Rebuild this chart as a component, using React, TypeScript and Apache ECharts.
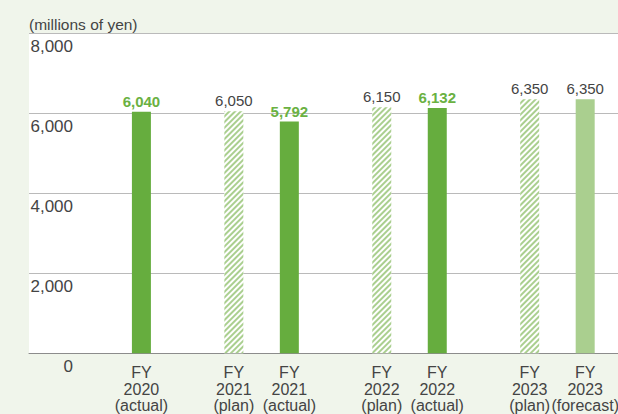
import React, { useEffect, useRef } from "react";
import * as echarts from "echarts";

const categories = ["FY2020", "FY2021", "FY2022", "FY2023"];
const planValues: (number | null)[] = [null, 6050, 6150, 6350];
const actualValues = [6040, 5792, 6132, 6350];
const actualKinds = ["actual", "actual", "actual", "forecast"];
const planLabels = ["", "FY\n2021\n(plan)", "FY\n2022\n(plan)", "FY\n2023\n(plan)"];
const actualLabels = ["FY\n2020\n(actual)", "FY\n2021\n(actual)", "FY\n2022\n(actual)", "FY\n2023\n(forecast)"];
const yTicks = [0, 2000, 4000, 6000, 8000];
const unitLabel = "(millions of yen)";

const GREEN = "#66ad3e";
const LIGHT = "#aacf8f";
const TEXT = "#444444";
const FONT = "'Liberation Sans', Arial, Helvetica, sans-serif";

export default function App() {
  const ref = useRef<HTMLDivElement>(null);
  useEffect(() => {
    if (!ref.current) return;
    const chart = echarts.init(ref.current, undefined, { renderer: "svg" });
    const top = 33.3;
    const bottom = 414 - 353.3;
    const barW = 19;
    const pairSpacing = 55.5;
    const shift = pairSpacing;
    const xLabelBase = {
      interval: 0,
      margin: 11,
      fontSize: 16,
      lineHeight: 16.5,
      color: TEXT,
      fontFamily: FONT,
      hideOverlap: false,
    };
    chart.setOption({
      animation: false,
      backgroundColor: "#f0f5eb",
      textStyle: { fontFamily: FONT },
      title: {
        text: unitLabel,
        left: 29,
        top: 16,
        padding: 0,
        textStyle: { fontFamily: FONT, fontSize: 15.5, fontWeight: "normal", color: TEXT },
      },
      grid: [
        { left: 29, right: 0, top, bottom, show: true, backgroundColor: "#ffffff", borderWidth: 0, outerBoundsMode: "none", containLabel: false },
        { left: 39.7, width: 591.7, top, bottom, outerBoundsMode: "none", containLabel: false },
      ],
      xAxis: [
        {
          gridIndex: 0,
          type: "value",
          position: "bottom",
          min: 0,
          max: 1,
          axisLine: { show: true, onZero: false, lineStyle: { color: "#8c8c8c", width: 1 } },
          axisTick: { show: false },
          axisLabel: { show: false },
          splitLine: { show: false },
        },
        {
          gridIndex: 1,
          type: "category",
          position: "bottom",
          offset: 0,
          data: categories,
          axisLine: { show: false },
          axisTick: { show: false },
          axisLabel: {
            ...xLabelBase,
            formatter: (_v: string, i: number) => actualLabels[i],
            padding: [0, 0, 0, shift],
          },
        },
        {
          gridIndex: 1,
          type: "category",
          position: "bottom",
          offset: 0,
          data: categories,
          axisLine: { show: false },
          axisTick: { show: false },
          axisLabel: {
            ...xLabelBase,
            formatter: (_v: string, i: number) => planLabels[i],
            padding: [0, shift, 0, 0],
          },
        },
      ],
      yAxis: [
        {
          gridIndex: 0,
          type: "value",
          min: yTicks[0],
          max: yTicks[yTicks.length - 1],
          interval: yTicks[1] - yTicks[0],
          axisLine: { show: false },
          axisTick: { show: false },
          splitLine: { show: true, lineStyle: { color: "#bababa", width: 1 } },
          axisLabel: {
            inside: true,
            align: "right",
            verticalAlign: "top",
            margin: 44,
            padding: [4.5, 0, 0, 0],
            fontSize: 17,
            lineHeight: 17,
            color: TEXT,
            fontFamily: FONT,
            formatter: (v: number) => v.toLocaleString("en-US"),
          },
        },
        {
          gridIndex: 1,
          type: "value",
          min: yTicks[0],
          max: yTicks[yTicks.length - 1],
          show: false,
          splitLine: { show: false },
        },
      ],
      series: [
        {
          type: "bar",
          name: "plan",
          xAxisIndex: 1,
          yAxisIndex: 1,
          barWidth: barW,
          barGap: ((pairSpacing - barW) / barW) * 100 + "%",
          data: planValues,
          itemStyle: {
            color: "#ffffff",
            decal: {
              symbol: "rect",
              symbolSize: 1,
              color: LIGHT,
              dashArrayX: [1, 0],
              dashArrayY: [2, 1.6],
              rotation: -Math.PI / 4,
            },
          },
          label: {
            show: true,
            position: "top",
            distance: 3,
            fontSize: 15,
            color: TEXT,
            fontFamily: FONT,
            formatter: (p: any) => p.value.toLocaleString("en-US"),
          },
        },
        {
          type: "bar",
          name: "actual",
          xAxisIndex: 1,
          yAxisIndex: 1,
          barWidth: barW,
          data: actualValues.map((v, i) => ({
            value: v,
            itemStyle: { color: actualKinds[i] === "forecast" ? LIGHT : GREEN },
            label:
              actualKinds[i] === "forecast"
                ? { color: TEXT, fontWeight: "normal" }
                : { color: "#6ab142", fontWeight: "bold" },
          })),
          label: {
            show: true,
            position: "top",
            distance: 3,
            fontSize: 15,
            fontFamily: FONT,
            formatter: (p: any) => p.value.toLocaleString("en-US"),
          },
        },
      ],
    });
    return () => chart.dispose();
  }, []);
  return (
    <div
      ref={ref}
      style={{ position: "fixed", left: 0, top: 0, width: 618, height: 414 }}
    />
  );
}
